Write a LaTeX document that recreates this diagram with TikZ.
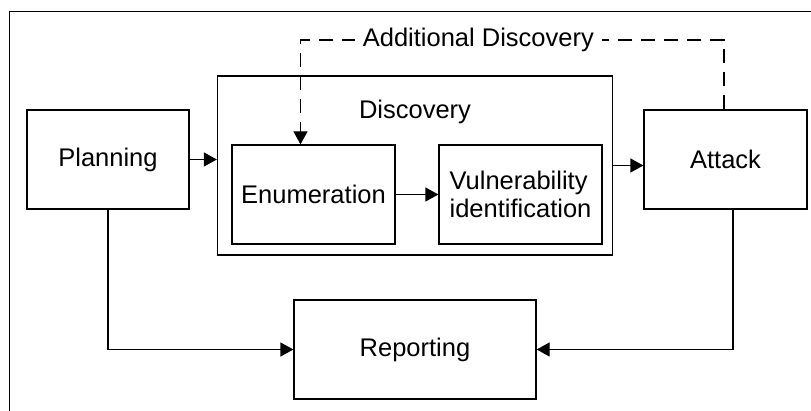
\documentclass[tikz,border=0pt]{standalone}
\usepackage{fontspec}
\setmainfont{Liberation Sans}
\usetikzlibrary{arrows.meta}
\tikzset{
    every node/.style={font=\fontsize{25.5}{28}\selectfont},
    stagebox/.style={draw, line width=1.3pt, inner sep=0pt, minimum width=163pt, minimum height=99pt},
    flow/.style={line width=1.3pt, -{Triangle[length=13pt,width=14pt]}},
    feedback/.style={flow, dash pattern=on 14pt off 9pt}
}

\begin{document}
\begin{tikzpicture}[x=1pt, y=-1pt]
                \useasboundingbox (0,0) rectangle (811,411);

                % Draw outer frame
                \draw[line width=1.3pt] (9.5,411) -- (9.5,11.7) -- (811,11.7);

                % Draw stages
                \node[stagebox, minimum width=162pt] (planning) at (108,159.5) {Planning};
                \node[stagebox, minimum width=395pt, minimum height=179pt] (discovery) at (415,165.5) {};
                \node (disctext) at (415,112) {Discovery};
                \node[stagebox] (enum) at (313.5,194.5) {Enumeration};
                \node[stagebox, align=left] (vuln) at (520.5,194.5) {Vulnerability\\identification};
                \node[stagebox] (attack) at (725.5,159.5) {Attack};
                \node[stagebox, minimum width=242pt] (reporting) at (415,349.5) {Reporting};
                \coordinate (looptop) at (0,40);

                % Draw main flow
                \draw[flow] (planning.east) -- (planning.east -| discovery.west);
                \draw[flow] (enum.east) -- (vuln.west);
                \draw[flow] (discovery.east) -- (discovery.east -| attack.west);
                \draw[flow] (planning.south) |- (reporting.west);
                \draw[flow] ([xshift=7.5pt]attack.south) |- (reporting.east);

                % Draw feedback loop
                \draw[feedback] ([xshift=-1.5pt]attack.north) -- ([xshift=-1.5pt]attack.north |- looptop)
                    -- node[fill=white, inner sep=8pt, pos=0.58] {Additional Discovery} ([xshift=-13pt]enum.north |- looptop)
                    -- ([xshift=-13pt]enum.north);
            \end{tikzpicture}
\end{document}
